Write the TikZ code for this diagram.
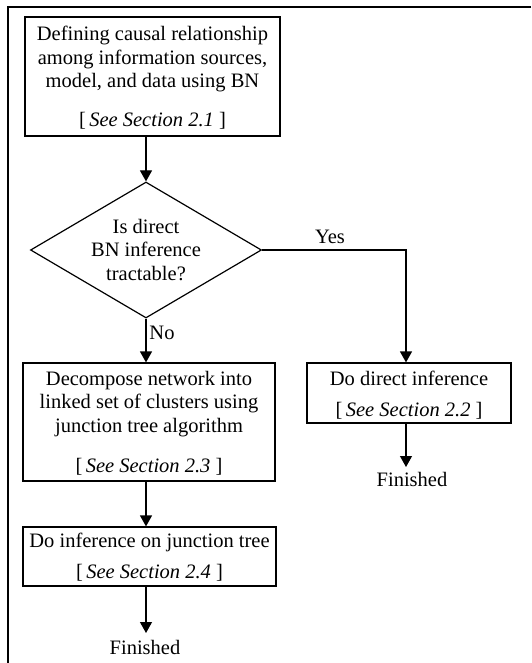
\documentclass[tikz,border=0pt]{standalone}
\usepackage{fontspec}
\setmainfont{Liberation Serif}
\usetikzlibrary{arrows.meta,shapes.geometric,calc}
\begin{document}
\begin{tikzpicture}[x=1pt,y=-1pt,
  font=\fontsize{20.5}{23.5}\selectfont,
  stepbox/.style={draw,line width=1.2pt,rectangle,inner sep=0pt},
  txt/.style={inner sep=0pt,align=center},
  arr/.style={line width=1.2pt,-{Triangle[width=12pt,length=11pt]}},
  conn/.style={line width=1.2pt}]
\useasboundingbox (0,0) rectangle (531,663);
\fill[white] (0,0) rectangle (531,663);
% frame
\draw[line width=1.4pt] (531,7) -- (8,7) -- (8,663);
% box 1
\node[stepbox,minimum width=255pt,minimum height=119pt] (b1) at (152.5,76.5) {};
\node[txt] (t1) at (152.5,59) {Defining causal relationship\\among information sources,\\model, and data using BN};
\node[txt] (s1) at (152.5,121) {[\,\textit{See Section 2.1}\ ]};
% diamond
\node[draw,line width=1.2pt,diamond,inner sep=0pt,minimum width=231pt,minimum height=136pt] (d) at (146,250) {};
\node[txt] (dt) at (146,250) {Is direct\\BN inference\\tractable?};
% direct box
\node[stepbox,minimum width=204pt,minimum height=60pt] (b2) at (409,393) {};
\node[txt] (t2) at (409,378) {Do direct inference};
\node[txt] (s2) at (409,411) {[\,\textit{See Section 2.2}\ ]};
% decompose box
\node[stepbox,minimum width=252pt,minimum height=118pt] (b3) at (149,422) {};
\node[txt] (t3) at (149,404) {Decompose network into\\linked set of clusters using\\junction tree algorithm};
\node[txt] (s3) at (149,467) {[\,\textit{See Section 2.3}\ ]};
% junction box
\node[stepbox,minimum width=253pt,minimum height=59pt] (b4) at (149.5,556.5) {};
\node[txt] (t4) at (149.5,542) {Do inference on junction tree};
\node[txt] (s4) at (149.5,573) {[\,\textit{See Section 2.4}\ ]};
% finished
\node[txt] (f1) at (145,647) {Finished};
\node[txt] (f2) at (412,479) {Finished};
\coordinate (e1) at (146,633);
\coordinate (e2) at (406,467);
% labels
\node[txt] (yes) at (330,237) {Yes};
\node[txt] (no) at (162,333) {No};
% connectors
\draw[arr] (b1.south -| d.north) -- (d.north);
\draw[arr] (d.south) -- (d.south |- b3.north);
\draw[arr] (d.east) -- ($(d.east -| b2.north)+(-3,0)$) -- ($(b2.north)+(-3,0)$);
\draw[arr] (b3.south -| d.south) -- (b4.north -| d.south);
\draw[arr] (b4.south -| d.south) -- (e1);
\draw[arr] ($(b2.south)+(-3,0)$) -- (e2);
\end{tikzpicture}
\end{document}
